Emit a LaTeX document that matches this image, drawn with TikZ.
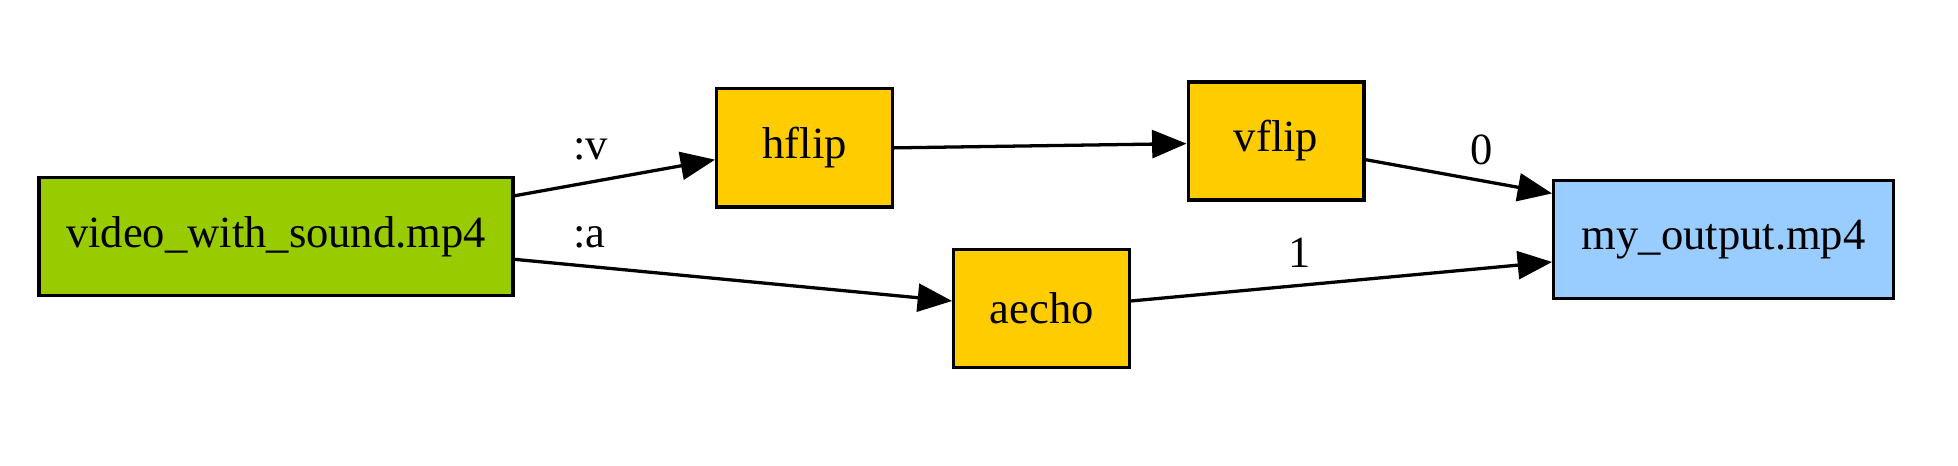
\documentclass[tikz,border=0pt]{standalone}
\usepackage{fontspec}
\setmainfont{Liberation Serif}
\usepackage{xcolor}
\usetikzlibrary{arrows.meta, positioning}

\definecolor{srcgreen}{HTML}{99CC00}
\definecolor{filteryellow}{HTML}{FFCC00}
\definecolor{outblue}{HTML}{99CCFF}

\begin{document}
\begin{tikzpicture}[
  font=\fontsize{13.6}{16}\selectfont,
  box/.style={rectangle, draw, line width=1pt, inner sep=0pt, minimum width=53.6pt, minimum height=36pt, align=center},
  srcbox/.style={box, fill=srcgreen, minimum width=144.6pt},
  filterbox/.style={box, fill=filteryellow},
  outbox/.style={box, fill=outblue, minimum width=103.6pt},
  arrow/.style={-{Triangle[length=10.5pt, width=8.5pt]}, line width=1pt},
  elabel/.style={inner sep=0pt}
]

% input file
\node[srcbox] (video) at (0,0) {video\_with\_sound.mp4};

% filters
\node[filterbox, right=61.1pt of video, yshift=27pt] (hflip) {hflip};
\node[filterbox, right=89.2pt of hflip, yshift=2.1pt] (vflip) {vflip};
\node[filterbox, right=133.4pt of video, yshift=-22pt] (aecho) {aecho};

% output file
\node[outbox, right=56.9pt of vflip, yshift=-30pt] (output) {my\_output.mp4};

% streams
\draw[arrow] ([yshift=12.4pt]video.east) -- node[elabel, pos=0.38, yshift=10pt] {:v} ([yshift=-3.6pt]hflip.west);
\draw[arrow] ([yshift=-7pt]video.east) -- node[elabel, pos=0.17, yshift=9pt] {:a} ([yshift=2.3pt]aecho.west);
\draw[arrow] (hflip.east) -- ([yshift=-0.8pt]vflip.west);
\draw[arrow] ([yshift=-5.7pt]vflip.east) -- node[elabel, pos=0.62, yshift=9.5pt] {0} ([yshift=14pt]output.west);
\draw[arrow] ([yshift=2.3pt]aecho.east) -- node[elabel, pos=0.4, yshift=10pt] {1} ([yshift=-6.9pt]output.west);

% margins
\path (-84.2pt,-70pt) rectangle (513pt,72.1pt);

\end{tikzpicture}
\end{document}
